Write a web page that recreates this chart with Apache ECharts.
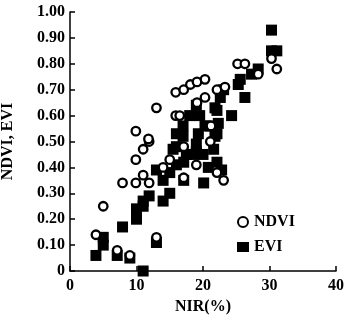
<!DOCTYPE html>
<html>
<head>
<meta charset="utf-8">
<script src="https://cdn.jsdelivr.net/npm/echarts@6/dist/echarts.min.js"></script>
<style>html,body{margin:0;padding:0;background:#fff}#c{width:345px;height:324px}</style>
</head>
<body>
<div id="c"></div>
<script>
const xTicks = [0, 10, 20, 30, 40];
const yTicks = ['0', '0.10', '0.20', '0.30', '0.40', '0.50', '0.60', '0.70', '0.80', '0.90', '1.00'];

const ndviX = [3.9, 5.0, 7.1, 9.0, 7.9, 9.9, 11.9, 11.0, 9.9, 11.0, 11.9, 9.9, 11.8, 13.0, 13.0, 14.0, 15.0, 15.9, 15.9, 17.1, 18.1, 19.1, 20.3, 17.1, 17.1, 19.0, 19.1, 20.3, 22.1, 23.3, 21.1, 22.1, 23.1, 25.2, 26.3, 28.3, 30.3, 31.1, 16.5, 21.2];
const ndviY = [0.14, 0.25, 0.08, 0.06, 0.34, 0.34, 0.34, 0.37, 0.43, 0.47, 0.50, 0.54, 0.51, 0.13, 0.63, 0.40, 0.43, 0.60, 0.69, 0.70, 0.72, 0.73, 0.74, 0.48, 0.36, 0.41, 0.65, 0.67, 0.70, 0.71, 0.50, 0.38, 0.35, 0.80, 0.80, 0.76, 0.82, 0.78, 0.60, 0.56];

const eviX = [3.9, 5.0, 5.0, 7.1, 9.0, 11.0, 7.9, 10.0, 10.0, 11.0, 11.9, 11.0, 13.0, 13.0, 14.0, 14.0, 15.0, 15.0, 16.0, 17.0, 17.1, 17.1, 19.0, 20.1, 20.8, 19.0, 18.0, 17.0, 16.0, 22.1, 21.1, 21.8, 19.0, 15.5, 17.5, 30.3, 31.1, 30.3, 28.3, 27.3, 25.6, 25.3, 26.3, 23.1, 22.6, 21.8, 19.5, 24.3, 22.3, 20.3, 19.3, 22.1, 20.0, 21.6, 22.1, 22.8, 18.5, 16.0];
const eviY = [0.06, 0.13, 0.10, 0.06, 0.05, 0.00, 0.17, 0.20, 0.24, 0.27, 0.29, 0.25, 0.11, 0.39, 0.35, 0.27, 0.30, 0.38, 0.48, 0.52, 0.42, 0.35, 0.46, 0.34, 0.40, 0.64, 0.60, 0.56, 0.53, 0.62, 0.56, 0.52, 0.49, 0.47, 0.45, 0.93, 0.85, 0.85, 0.78, 0.76, 0.74, 0.72, 0.67, 0.70, 0.67, 0.63, 0.60, 0.60, 0.57, 0.56, 0.53, 0.53, 0.45, 0.47, 0.42, 0.39, 0.45, 0.41];

const font = 'Liberation Serif';
const chart = echarts.init(document.getElementById('c'));
chart.setOption({
  animation: false,
  backgroundColor: '#fff',
  grid: {left: 70, right: 9, top: 12, bottom: 53, containLabel: false, outerBoundsMode: 'none'},
  legend: {
    orient: 'vertical', left: 232, top: 209, itemGap: 9,
    itemWidth: 12, itemHeight: 10,
    textStyle: {fontFamily: font, fontWeight: 'bold', fontSize: 16, color: '#000'},
    data: ['NDVI', 'EVI']
  },
  xAxis: {
    type: 'value', min: 0, max: 40, interval: 10,
    name: 'NIR(%)', nameLocation: 'middle', nameGap: 27,
    nameTextStyle: {fontFamily: font, fontWeight: 'bold', fontSize: 16, color: '#000'},
    axisLine: {lineStyle: {color: '#000', width: 1.5}},
    axisTick: {inside: true, length: 5, lineStyle: {color: '#000', width: 1.5}},
    axisLabel: {fontFamily: font, fontWeight: 'bold', fontSize: 16, color: '#000', margin: 7,
      formatter: v => String(xTicks[Math.round(v / 10)])},
    splitLine: {show: false}
  },
  yAxis: {
    type: 'value', min: 0, max: 1, interval: 0.1,
    name: 'NDVI, EVI', nameLocation: 'middle', nameGap: 54, nameRotate: 90,
    nameTextStyle: {fontFamily: font, fontWeight: 'bold', fontSize: 16, color: '#000'},
    axisLine: {lineStyle: {color: '#000', width: 1.5}},
    axisTick: {inside: true, length: 5, lineStyle: {color: '#000', width: 1.5}},
    axisLabel: {fontFamily: font, fontWeight: 'bold', fontSize: 16, color: '#000', margin: 5,
      formatter: v => yTicks[Math.round(v * 10)]},
    splitLine: {show: false}
  },
  series: [
    {
      name: 'NDVI', type: 'scatter', symbol: 'circle', symbolSize: 8.5, z: 3,
      itemStyle: {color: '#fff', borderColor: '#000', borderWidth: 2.3, opacity: 1},
      data: ndviX.map((x, i) => [x, ndviY[i]])
    },
    {
      name: 'EVI', type: 'scatter', symbol: 'rect', symbolSize: 11, z: 2,
      itemStyle: {color: '#000', opacity: 1},
      data: eviX.map((x, i) => [x, eviY[i]])
    }
  ]
});
</script>
</body>
</html>
